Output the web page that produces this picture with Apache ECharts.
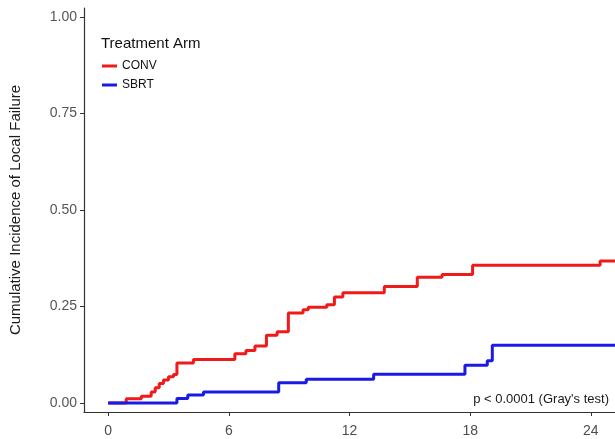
<!DOCTYPE html>
<html>
<head>
<meta charset="utf-8">
<script src="https://cdn.jsdelivr.net/npm/echarts@6/dist/echarts.min.js"></script>
<style>
  html, body { margin: 0; padding: 0; background: #fff; }
  #cif { width: 615px; height: 439px; }
</style>
</head>
<body>
<div id="cif"></div>
<script>
// step curves (time in months, cumulative incidence)
var convTime = [0, 0.9, 1.65, 2.14, 2.34, 2.54, 2.75, 3.0, 3.25, 3.42, 4.24, 6.3, 6.85, 7.3, 7.87, 8.4, 8.96, 9.69, 9.95, 10.87, 11.25, 11.67, 13.73, 15.37, 16.6, 18.12, 24.46, 25.2];
var convCif = [0, 0.011, 0.018, 0.029, 0.040, 0.051, 0.060, 0.068, 0.074, 0.104, 0.113, 0.128, 0.136, 0.148, 0.176, 0.185, 0.233, 0.242, 0.248, 0.255, 0.275, 0.286, 0.302, 0.326, 0.333, 0.357, 0.368, 0.368];
var sbrtTime = [0, 3.42, 3.96, 4.74, 8.48, 9.85, 13.2, 17.74, 18.85, 19.1, 25.2];
var sbrtCif = [0, 0.012, 0.021, 0.029, 0.053, 0.062, 0.075, 0.098, 0.110, 0.150, 0.150];
var xTicks = [0, 6, 12, 18, 24];
var yTicks = [0, 0.25, 0.5, 0.75, 1];

function pairs(xs, ys) {
  var out = [];
  for (var i = 0; i < xs.length; i++) out.push([xs[i], ys[i]]);
  return out;
}

var font = 'Arial, "Liberation Sans", sans-serif';
var chart = echarts.init(document.getElementById('cif'));

chart.setOption({
  animation: false,
  backgroundColor: '#fff',
  grid: { left: 82, right: 0, top: 8, bottom: 27 },
  title: {
    text: 'Treatment Arm',
    left: 96, top: 31,
    textStyle: { fontFamily: font, fontSize: 15, fontWeight: 'normal', color: '#111' }
  },
  legend: {
    orient: 'vertical',
    left: 97, top: 55,
    itemGap: 7,
    icon: 'rect',
    itemWidth: 15, itemHeight: 3,
    textStyle: { fontFamily: font, fontSize: 12, color: '#111' },
    data: ['CONV', 'SBRT']
  },
  xAxis: {
    type: 'value',
    min: -1.2, max: 25.2,
    splitLine: { show: false },
    axisLine: { onZero: false, lineStyle: { color: '#333', width: 1.2 } },
    axisTick: { customValues: xTicks, length: 4, lineStyle: { color: '#333' } },
    axisLabel: { customValues: xTicks, margin: 12, fontFamily: font, fontSize: 14, color: '#4d4d4d' }
  },
  yAxis: {
    type: 'value',
    min: -0.023, max: 1.023,
    name: 'Cumulative Incidence of Local Failure',
    nameLocation: 'middle',
    nameRotate: 90,
    nameGap: 61,
    nameTextStyle: { fontFamily: font, fontSize: 15, color: '#1a1a1a' },
    splitLine: { show: false },
    axisLine: { show: true, onZero: false, lineStyle: { color: '#333', width: 1.2 } },
    axisTick: { show: true, customValues: yTicks, length: 4, lineStyle: { color: '#333' } },
    axisLabel: {
      customValues: yTicks, margin: 7, fontFamily: font, fontSize: 14, color: '#555',
      formatter: function (v) { return v.toFixed(2); }
    }
  },
  graphic: [{
    type: 'text',
    right: 6, top: 393,
    style: { text: "p < 0.0001 (Gray's test)", font: '13px ' + font, fill: '#1a1a1a' }
  }],
  series: [
    {
      name: 'CONV', type: 'line', step: 'end', showSymbol: false,
      color: '#f01a1a',
      lineStyle: { width: 3 },
      data: pairs(convTime, convCif)
    },
    {
      name: 'SBRT', type: 'line', step: 'end', showSymbol: false,
      color: '#1a1ae6',
      lineStyle: { width: 3 },
      data: pairs(sbrtTime, sbrtCif)
    }
  ]
});
</script>
</body>
</html>
